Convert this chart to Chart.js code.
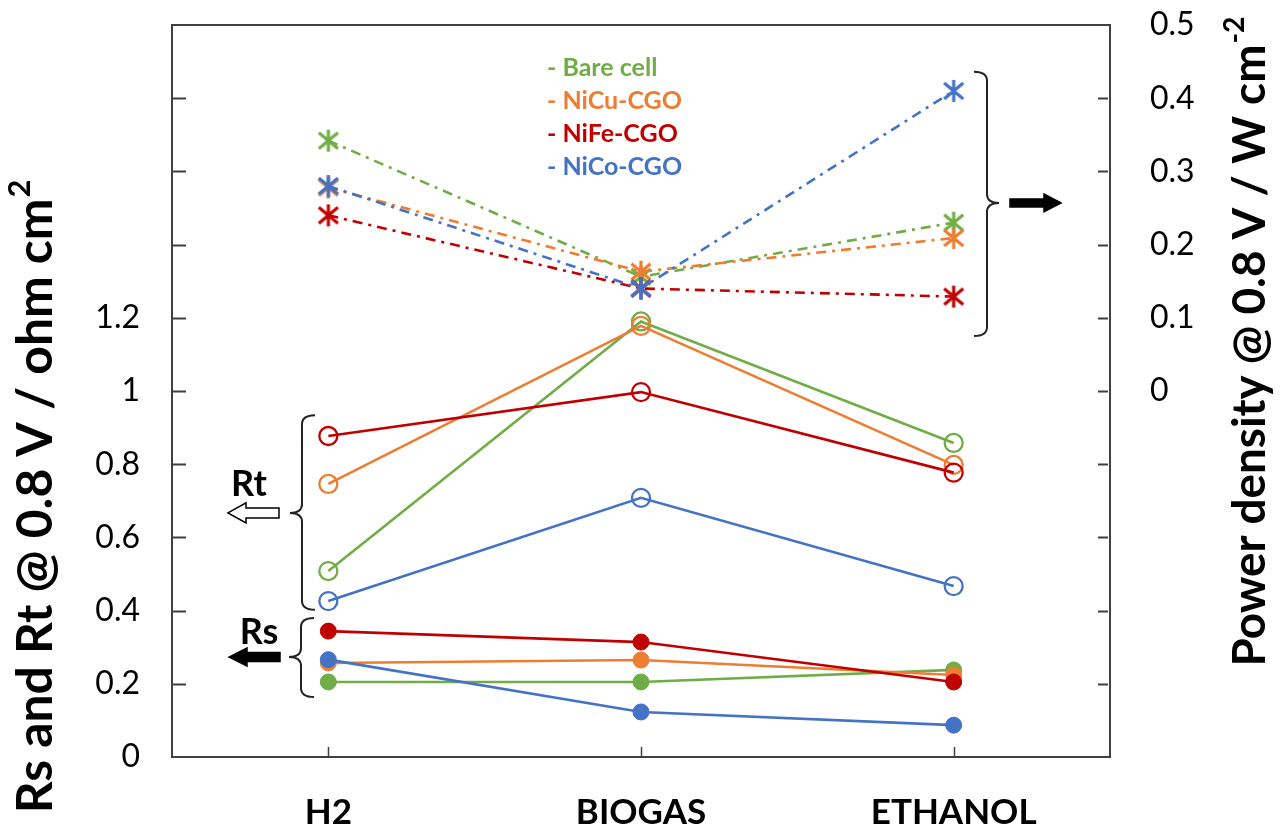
<!DOCTYPE html>
<html>
<head>
<meta charset="utf-8">
<style>
html,body{margin:0;padding:0;background:#fff;}
canvas{display:block;}
</style>
<script src="https://cdn.jsdelivr.net/npm/chart.js@4.4.1/dist/chart.umd.min.js"></script>
</head>
<body>
<canvas id="c" width="1282" height="833"></canvas>
<script>
// ---- data ----
const categories = ['H2', 'BIOGAS', 'ETHANOL'];
const seriesNames = ['Bare cell', 'NiCu-CGO', 'NiFe-CGO', 'NiCo-CGO'];
const seriesColors = ['#70AD47', '#ED7D31', '#C00000', '#4472C4'];

// Rs (left axis, filled circles)
const rsBare = [0.205, 0.205, 0.238];
const rsNiCu = [0.257, 0.265, 0.224];
const rsNiFe = [0.344, 0.314, 0.205];
const rsNiCo = [0.266, 0.123, 0.087];
// Rt (left axis, open circles)
const rtBare = [0.508, 1.190, 0.858];
const rtNiCu = [0.746, 1.178, 0.798];
const rtNiFe = [0.877, 0.997, 0.777];
const rtNiCo = [0.426, 0.708, 0.467];
// Power density (right axis, asterisks)
const pdBare = [0.342, 0.156, 0.230];
const pdNiCu = [0.278, 0.163, 0.209];
const pdNiFe = [0.240, 0.140, 0.129];
const pdNiCo = [0.280, 0.140, 0.410];

const leftTickLabels = ['0', '0.2', '0.4', '0.6', '0.8', '1', '1.2'];
const rightTickLabels = ['0', '0.1', '0.2', '0.3', '0.4', '0.5'];

const rsSets = [rsBare, rsNiCu, rsNiFe, rsNiCo];
const rtSets = [rtBare, rtNiCu, rtNiFe, rtNiCo];
const pdSets = [pdBare, pdNiCu, pdNiFe, pdNiCo];

// ---- asterisk point style ----
function asterisk(color) {
  const s = 26, c = document.createElement('canvas');
  c.width = s; c.height = s;
  const g = c.getContext('2d');
  g.strokeStyle = color; g.lineWidth = 3.2; g.lineCap = 'butt';
  const m = s / 2, r = 11;
  g.beginPath();
  g.moveTo(m, m - r); g.lineTo(m, m + r);
  g.moveTo(m - r * 0.87, m - r * 0.72); g.lineTo(m + r * 0.87, m + r * 0.72);
  g.moveTo(m - r * 0.87, m + r * 0.72); g.lineTo(m + r * 0.87, m - r * 0.72);
  g.stroke();
  return c;
}

const datasets = [];
seriesNames.forEach((name, i) => {
  const col = seriesColors[i];
  const order = 4 - i;
  datasets.push({
    label: 'Rs ' + name, data: rsSets[i], yAxisID: 'y', order: order,
    borderColor: col, backgroundColor: col, borderWidth: 2.6,
    pointRadius: 8, pointBackgroundColor: col, pointBorderColor: col, pointBorderWidth: 1
  });
  datasets.push({
    label: 'Rt ' + name, data: rtSets[i], yAxisID: 'y', order: order,
    borderColor: col, backgroundColor: col, borderWidth: 2.6,
    pointRadius: 9, pointBackgroundColor: 'rgba(0,0,0,0)', pointBorderColor: col, pointBorderWidth: 2.3
  });
  datasets.push({
    label: 'PD ' + name, data: pdSets[i], yAxisID: 'y2', order: order,
    borderColor: col, backgroundColor: col, borderWidth: 2.6, borderDash: [10, 6, 3, 6],
    pointStyle: asterisk(col), pointRadius: 11
  });
});

const FONT = 'Lato, "Open Sans", "Liberation Sans", sans-serif';

function fitText(ctx, text, weight, target) {
  ctx.font = weight + ' 100px ' + FONT;
  return 100 * target / ctx.measureText(text).width;
}

function drawRotTitle(ctx, cx, cy, main, sup, size) {
  ctx.save();
  ctx.translate(cx, cy);
  ctx.rotate(-Math.PI / 2);
  ctx.font = 'bold ' + size + 'px ' + FONT;
  const w1 = ctx.measureText(main).width;
  ctx.font = 'bold ' + (size * 0.62) + 'px ' + FONT;
  const w2 = ctx.measureText(sup).width;
  const x0 = -(w1 + w2) / 2;
  ctx.fillStyle = '#000';
  ctx.textBaseline = 'middle';
  ctx.textAlign = 'left';
  ctx.font = 'bold ' + size + 'px ' + FONT;
  ctx.fillText(main, x0, 0);
  ctx.font = 'bold ' + (size * 0.62) + 'px ' + FONT;
  ctx.fillText(sup, x0 + w1 + 1, -size * 0.33);
  ctx.restore();
}

function brace(ctx, xe, xs, xt, top, mid, bottom) {
  const r = 9;
  ctx.beginPath();
  ctx.moveTo(xe, top);
  ctx.quadraticCurveTo(xs, top, xs, top + r);
  ctx.lineTo(xs, mid - r);
  ctx.quadraticCurveTo(xs, mid, xt, mid);
  ctx.quadraticCurveTo(xs, mid, xs, mid + r);
  ctx.lineTo(xs, bottom - r);
  ctx.quadraticCurveTo(xs, bottom, xe, bottom);
  ctx.stroke();
}

function arrow(ctx, tip, base, end, yc, hh, sh, fill) {
  ctx.beginPath();
  ctx.moveTo(tip, yc);
  ctx.lineTo(base, yc - hh);
  ctx.lineTo(base, yc - sh);
  ctx.lineTo(end, yc - sh);
  ctx.lineTo(end, yc + sh);
  ctx.lineTo(base, yc + sh);
  ctx.lineTo(base, yc + hh);
  ctx.closePath();
  ctx.fillStyle = fill;
  ctx.fill();
  ctx.lineWidth = 1.5;
  ctx.strokeStyle = '#000';
  ctx.stroke();
}

const deco = {
  id: 'deco',
  afterDraw(chart) {
    const ctx = chart.ctx, ca = chart.chartArea;
    const sx = chart.scales.x, sy = chart.scales.y, sy2 = chart.scales.y2;
    ctx.save();
    // top border
    ctx.strokeStyle = '#404040'; ctx.lineWidth = 2;
    ctx.beginPath(); ctx.moveTo(ca.left - 1, ca.top); ctx.lineTo(ca.right, ca.top); ctx.stroke();
    // left inward ticks
    ctx.beginPath();
    for (let k = 1; k < 10; k++) {
      const py = Math.round(sy.getPixelForValue(k * 0.2)) + 0.5;
      ctx.moveTo(ca.left, py); ctx.lineTo(ca.left + 14, py);
    }
    ctx.stroke();
    // right inward ticks
    ctx.lineWidth = 2.2;
    ctx.beginPath();
    for (let k = -4; k <= 4; k++) {
      const py = Math.round(sy2.getPixelForValue(k * 0.1)) + 0.5;
      ctx.moveTo(ca.right - 12, py); ctx.lineTo(ca.right - 2, py);
    }
    ctx.stroke();
    // category ticks
    ctx.lineWidth = 1.5;
    ctx.beginPath();
    categories.forEach((c, i) => {
      const px = Math.round(sx.getPixelForValue(i)) + 0.5;
      ctx.moveTo(px, ca.bottom); ctx.lineTo(px, ca.bottom - 10);
    });
    ctx.stroke();

    // legend text
    ctx.font = 'bold 25px ' + FONT;
    ctx.textAlign = 'left'; ctx.textBaseline = 'middle';
    seriesNames.forEach((n, i) => {
      ctx.fillStyle = seriesColors[i];
      ctx.fillText('- ' + n, 547, 68 + i * 33);
    });

    // braces
    ctx.strokeStyle = '#222'; ctx.lineWidth = 2;
    brace(ctx, 974, 987, 999, sy2.getPixelForValue(0.436), sy2.getPixelForValue(0.257), sy2.getPixelForValue(0.075));
    brace(ctx, 315, 302, 290, sy.getPixelForValue(0.934), sy.getPixelForValue(0.667), sy.getPixelForValue(0.402));
    brace(ctx, 314, 301, 289, sy.getPixelForValue(0.380), sy.getPixelForValue(0.273), sy.getPixelForValue(0.164));

    // arrows
    arrow(ctx, 1061, 1044, 1010, sy2.getPixelForValue(0.257), 9, 4, '#000');
    arrow(ctx, 228, 246, 279, sy.getPixelForValue(0.667), 10, 5, '#fff');
    arrow(ctx, 229, 247, 280, sy.getPixelForValue(0.273), 9, 4.5, '#000');

    // Rt / Rs labels
    ctx.fillStyle = '#000';
    ctx.font = 'bold 36px ' + FONT;
    ctx.textAlign = 'center'; ctx.textBaseline = 'middle';
    ctx.fillText('Rt', 249, 484);
    ctx.fillText('Rs', 259, 632);

    // axis titles
    const s1 = fitText(ctx, 'Rs and Rt @ 0.8 V / ohm cm', 'bold', 615);
    drawRotTitle(ctx, 36, 497, 'Rs and Rt @ 0.8 V / ohm cm', '2', s1);
    const s2 = fitText(ctx, 'Power density @ 0.8 V / W cm', 'bold', 622);
    drawRotTitle(ctx, 1250, 342, 'Power density @ 0.8 V / W cm', '-2', s2);
    ctx.restore();
  }
};

new Chart(document.getElementById('c'), {
  type: 'line',
  data: { labels: categories, datasets: datasets },
  plugins: [deco],
  options: {
    responsive: false,
    animation: false,
    devicePixelRatio: 1,
    layout: { padding: { top: 25, left: 0, right: 0, bottom: 0 } },
    plugins: { legend: { display: false }, tooltip: { enabled: false }, title: { display: false } },
    scales: {
      x: {
        type: 'category', offset: true,
        grid: { display: false, drawTicks: false },
        border: { display: true, color: '#404040', width: 2 },
        ticks: { color: '#000', font: { family: FONT, weight: 'bold', size: 35 }, padding: 35 },
        afterFit(s) { s.height = 76; s.paddingLeft = 0; s.paddingRight = 0; }
      },
      y: {
        position: 'left', min: 0, max: 2,
        grid: { display: false, drawTicks: false },
        border: { display: true, color: '#404040', width: 2 },
        ticks: {
          stepSize: 0.2, color: '#000', font: { family: FONT, size: 32 }, padding: 32,
          callback(v) { const i = Math.round(v / 0.2); return (Math.abs(v - i * 0.2) < 1e-6 && i < leftTickLabels.length) ? leftTickLabels[i] : ''; }
        },
        afterFit(s) { s.width = 172; s.paddingTop = 0; s.paddingBottom = 0; }
      },
      y2: {
        position: 'right', min: -0.5, max: 0.5,
        grid: { display: false, drawTicks: false },
        border: { display: true, color: '#404040', width: 2, dash: [9, 5, 2, 6] },
        ticks: {
          stepSize: 0.1, color: '#000', font: { family: FONT, size: 32 }, padding: 40,
          callback(v) { const i = Math.round(v / 0.1); return (i >= 0 && i < rightTickLabels.length) ? rightTickLabels[i] : ''; }
        },
        afterFit(s) { s.width = 172; s.paddingTop = 0; s.paddingBottom = 0; }
      }
    }
  }
});
</script>
</body>
</html>
